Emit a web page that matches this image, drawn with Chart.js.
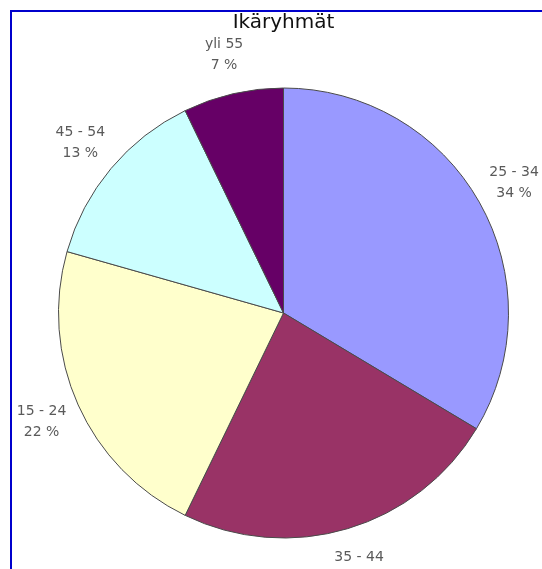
<!DOCTYPE html>
<html>
<head>
<meta charset="utf-8">
<script src="https://cdn.jsdelivr.net/npm/chart.js@4/dist/chart.umd.min.js"></script>
<style>
  html, body { margin: 0; padding: 0; background: #fff; overflow: hidden; }
  #wrap { position: relative; width: 542px; height: 569px; }
  #frame {
    position: absolute; left: 10px; top: 10px; width: 600px; height: 600px;
    border-left: 2px solid #0000cc; border-top: 2px solid #0000cc;
    pointer-events: none;
  }
</style>
</head>
<body>
<div id="wrap">
  <canvas id="ageChart" width="542" height="569"></canvas>
  <div id="frame"></div>
</div>
<script>
const chartTitle = 'Ikäryhmät'
const ageGroups = ['25 - 34', '35 - 44', '15 - 24', '45 - 54', 'yli 55']
const shares = [33.6, 23.6, 22.2, 13.4, 7.2]
const sliceColors = ['#9999ff', '#993366', '#ffffcc', '#ccffff', '#660066']

// labels outside the pie: group name + rounded percent
const outsideLabels = {
  id: 'outsideLabels',
  afterDatasetsDraw(chart) {
    const ctx = chart.ctx
    const meta = chart.getDatasetMeta(0)
    ctx.save()
    ctx.font = '14px "DejaVu Sans", Verdana, sans-serif'
    ctx.fillStyle = '#5a5a5a'
    ctx.textAlign = 'center'
    ctx.textBaseline = 'middle'
    meta.data.forEach((arc, i) => {
      const { x, y, startAngle, endAngle, outerRadius } = arc.getProps(
        ['x', 'y', 'startAngle', 'endAngle', 'outerRadius'], true)
      const mid = (startAngle + endAngle) / 2
      const r = outerRadius + 40
      const lx = x + Math.cos(mid) * r
      const ly = y + Math.sin(mid) * r
      ctx.fillText(ageGroups[i], lx, ly - 10)
      ctx.fillText(`${Math.round(shares[i])} %`, lx, ly + 11)
    })
    ctx.restore()
  }
}

const ctx = document.getElementById('ageChart').getContext('2d')

new Chart(ctx, {
  type: 'pie',
  data: {
    labels: ageGroups,
    datasets: [{
      data: shares,
      backgroundColor: sliceColors,
      borderColor: '#4a4a4a',
      borderWidth: 1,
    }]
  },
  options: {
    responsive: false,
    animation: false,
    layout: {
      padding: { left: 58, right: 33, top: 0, bottom: 30 }
    },
    plugins: {
      legend: { display: false },
      tooltip: { enabled: false },
      title: {
        display: true,
        text: chartTitle,
        color: '#111',
        font: { family: '"DejaVu Sans", Verdana, sans-serif', size: 20, weight: 'normal' },
        padding: { top: 11, bottom: 52 },
      }
    }
  },
  plugins: [outsideLabels]
})
</script>
</body>
</html>
